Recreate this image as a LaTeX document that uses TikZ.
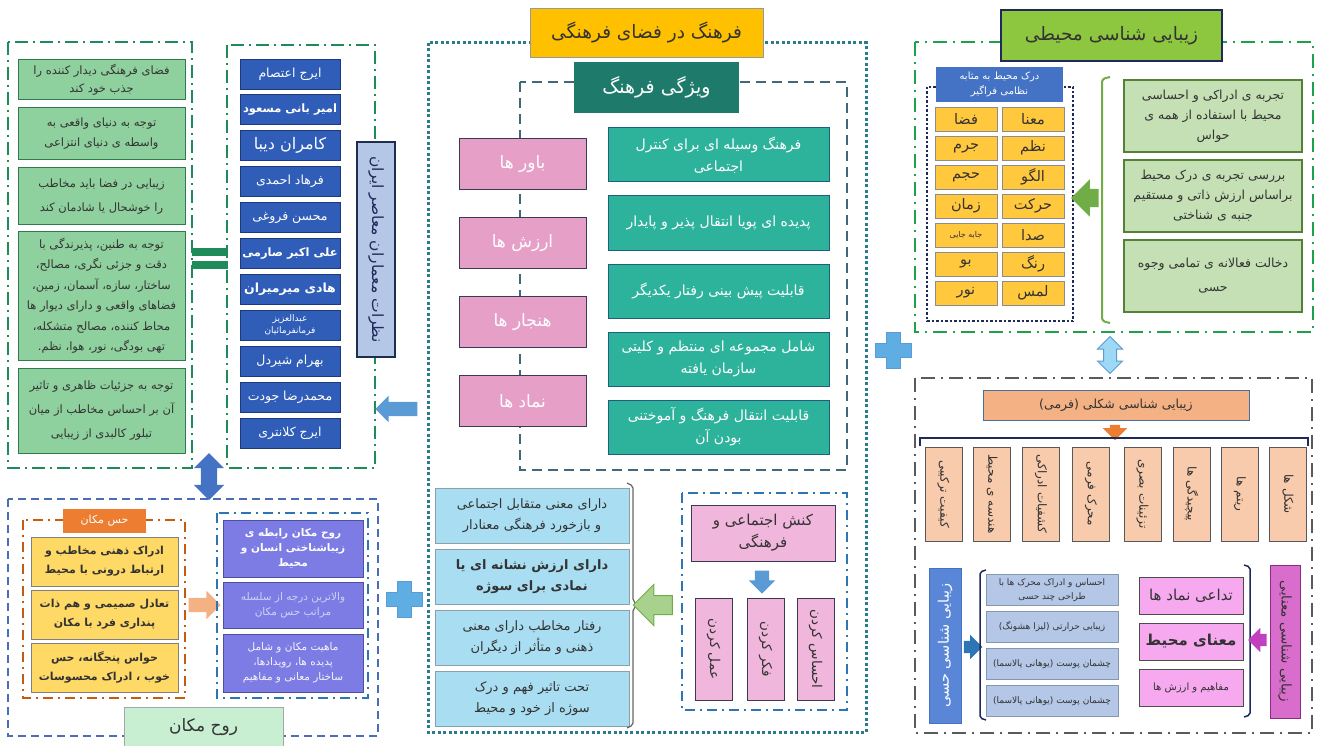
\documentclass[tikz,border=0pt]{standalone}
\usepackage{fontspec}
\setmainfont[Script=Arabic]{DejaVu Sans}
\TeXXeTstate=1
\usetikzlibrary{positioning, shapes.arrows}

\newcommand{\fa}[1]{\beginR#1\endR}

\definecolor{grnline}{HTML}{1E8C5A}
\definecolor{grnfill}{HTML}{8FD19E}
\definecolor{gbdr}{HTML}{2E7B4E}
\definecolor{namebl}{HTML}{2F5DB8}
\definecolor{namebd}{HTML}{1F3A7A}
\definecolor{nazfill}{HTML}{B4C7E7}
\definecolor{nazbd}{HTML}{1F2D4F}
\definecolor{tealdot}{HTML}{2A7B8C}
\definecolor{gold}{HTML}{FFC000}
\definecolor{dashfr}{HTML}{3F6878}
\definecolor{darkteal}{HTML}{1E7B6C}
\definecolor{pinkc}{HTML}{E6A0C8}
\definecolor{pinkbd}{HTML}{3A3A55}
\definecolor{tealc}{HTML}{2DB39B}
\definecolor{tealbd}{HTML}{1F5F80}
\definecolor{skyc}{HTML}{A9DEF2}
\definecolor{skybd}{HTML}{8AA0AA}
\definecolor{rosec}{HTML}{F0B6DC}
\definecolor{fgreen}{HTML}{1FA04A}
\definecolor{lime}{HTML}{8DC63F}
\definecolor{navy}{HTML}{1F2A5A}
\definecolor{ybl}{HTML}{4472C4}
\definecolor{cellyel}{HTML}{FFC83D}
\definecolor{lgfill}{HTML}{C5E0B4}
\definecolor{lgbd}{HTML}{548235}
\definecolor{lgarr}{HTML}{70AD47}
\definecolor{lgarrfill}{HTML}{A9D18E}
\definecolor{grayfr}{HTML}{5A5A5A}
\definecolor{salmon}{HTML}{F4B183}
\definecolor{salbd}{HTML}{41719C}
\definecolor{orng}{HTML}{ED7D31}
\definecolor{peach}{HTML}{F8CBAD}
\definecolor{bluev}{HTML}{5A86D8}
\definecolor{steel}{HTML}{2E75B6}
\definecolor{lbbd}{HTML}{8497B0}
\definecolor{magfill}{HTML}{F7A9F0}
\definecolor{magv}{HTML}{D96DCB}
\definecolor{magarr}{HTML}{C23FC0}
\definecolor{blfr}{HTML}{4A6DB8}
\definecolor{mint}{HTML}{C9EFD3}
\definecolor{rust}{HTML}{C55A11}
\definecolor{yfill}{HTML}{FFD966}
\definecolor{purp}{HTML}{7C7CE4}
\definecolor{purpbd}{HTML}{4F4FA0}
\definecolor{plusc}{HTML}{5FAEE3}
\definecolor{arrbl}{HTML}{5B9BD5}
\definecolor{ltcyan}{HTML}{9DD9F5}

\begin{document}
\begin{tikzpicture}[x=1pt, y=-1pt,
  every node/.style={align=center, inner sep=1pt, outer sep=0pt, text=black!80, font=\fontsize{10}{13}\selectfont},
  gframe/.style={draw=grnline, line width=2pt, dash pattern=on 13pt off 5pt on 2pt off 5pt},
  rgframe/.style={draw=fgreen, line width=2.2pt, dash pattern=on 14pt off 6pt on 2pt off 6pt},
  kframe/.style={draw=grayfr, line width=2.2pt, dash pattern=on 14pt off 6pt on 2pt off 6pt},
  bframe/.style={draw=steel, line width=2.5pt, dash pattern=on 10pt off 5pt on 2pt off 5pt},
  oframe/.style={draw=rust, line width=2.5pt, dash pattern=on 10pt off 5pt on 2pt off 5pt},
  gbox/.style={draw=gbdr, fill=grnfill, line width=1pt, minimum width=167pt, font=\fontsize{11.5}{18}\selectfont},
  nbox/.style={draw=namebd, fill=namebl, line width=0.8pt, minimum width=100pt, minimum height=30pt, text=white, font=\fontsize{12.5}{14}\selectfont},
  pbox/.style={draw=pinkbd, fill=pinkc, line width=1pt, minimum width=127pt, minimum height=51pt, text=white, font=\fontsize{17}{20}\selectfont},
  tbox/.style={draw=tealbd, fill=tealc, line width=1pt, minimum width=221pt, minimum height=54pt, text=white, font=\fontsize{14}{22}\selectfont},
  sbox/.style={draw=skybd, fill=skyc, line width=0.8pt, minimum width=194pt, minimum height=55pt, font=\fontsize{13}{21}\selectfont},
  kbox/.style={draw=pinkbd, fill=rosec, line width=1pt, minimum width=102pt, minimum height=37pt, rotate=-90, font=\fontsize{13.5}{15}\selectfont},
  ycell/.style={draw=black!45, fill=cellyel, minimum width=62pt, minimum height=24pt, font=\fontsize{14.5}{16}\selectfont},
  lgbox/.style={draw=lgbd, fill=lgfill, line width=1.5pt, minimum width=178pt, minimum height=72pt, font=\fontsize{12.5}{20}\selectfont},
  vbox/.style={draw=black!65, fill=peach, minimum width=94pt, minimum height=37pt, rotate=-90, font=\fontsize{12}{14}\selectfont},
  lbbox/.style={draw=lbbd, fill=nazfill, minimum width=132pt, minimum height=31pt, font=\fontsize{9}{14}\selectfont},
  mbox/.style={draw=black!70, fill=magfill, minimum width=104pt, minimum height=37pt},
  ybox/.style={draw=black!50, fill=yfill, minimum width=147pt, minimum height=49pt, font=\bfseries\fontsize{11}{19}\selectfont},
  ubox/.style={draw=purpbd, fill=purp, minimum width=140pt, font=\fontsize{10.5}{15}\selectfont},
  blockarrow/.style={single arrow, inner sep=#1, single arrow head extend=6pt},
  twoarrow/.style={double arrow, inner sep=#1, double arrow head extend=6pt},
  plussign/.pic={\filldraw[fill=plusc, draw=arrbl, line width=0.8pt] (-7,-18) -- (7,-18) -- (7,-7) -- (18,-7) -- (18,7) -- (7,7) -- (7,18) -- (-7,18) -- (-7,7) -- (-18,7) -- (-18,-7) -- (-7,-7) -- cycle;}]

\useasboundingbox (0,0) rectangle (1317,746);

% Left panel
\draw[gframe] (8,42) rectangle (192,468);
\draw[gframe] (227,45) rectangle (375,468);
\fill[grnline] (192,248) rectangle (228,256);
\fill[grnline] (192,261) rectangle (228,269);

\node[gbox, minimum height=40pt] (g1) at (101.5,80) {\fa{فضای فرهنگی دیدار کننده را}\\\fa{جذب خود کند}};
\node[gbox, minimum height=52pt, below=8pt of g1, font=\fontsize{11.5}{20}\selectfont] (g2) {\fa{توجه به دنیای واقعی به}\\\fa{واسطه ی دنیای انتزاعی}};
\node[gbox, minimum height=57pt, below=8pt of g2, font=\fontsize{11.5}{24}\selectfont] (g3) {\fa{زیبایی در فضا باید مخاطب}\\\fa{را خوشحال یا شادمان کند}};
\node[gbox, minimum height=128pt, below=7pt of g3, font=\fontsize{11.5}{20.5}\selectfont] (g4) {\fa{توجه به طنین، پذیرندگی با}\\\fa{دقت و جزئی نگری، مصالح،}\\\fa{ساختار، سازه، آسمان، زمین،}\\\fa{فضاهای واقعی و دارای دیوار ها}\\\fa{محاط کننده، مصالح متشکله،}\\\fa{تهی بودگی، نور، هوا، نظم.}};
\node[gbox, minimum height=85pt, below=8pt of g4, font=\fontsize{11.5}{24}\selectfont] (g5) {\fa{توجه به جزئیات ظاهری و تاثیر}\\\fa{آن بر احساس مخاطب از میان}\\\fa{تبلور کالبدی از زیبایی}};

\node[nbox] (n1) at (290,74) {\fa{ایرج اعتصام}};
\node[nbox, below=5.9pt of n1, font=\bfseries\fontsize{11.5}{13}\selectfont] (n2) {\fa{امیر بانی مسعود}};
\node[nbox, below=5.9pt of n2, font=\fontsize{16}{18}\selectfont] (n3) {\fa{کامران دیبا}};
\node[nbox, below=5.9pt of n3] (n4) {\fa{فرهاد احمدی}};
\node[nbox, below=5.9pt of n4] (n5) {\fa{محسن فروغی}};
\node[nbox, below=5.9pt of n5, font=\bfseries\fontsize{11.5}{13}\selectfont] (n6) {\fa{علی اکبر صارمی}};
\node[nbox, below=5.9pt of n6, font=\bfseries\fontsize{12.5}{14}\selectfont] (n7) {\fa{هادی میرمیران}};
\node[nbox, below=5.9pt of n7, font=\fontsize{9}{11.5}\selectfont] (n8) {\fa{عبدالعزیز}\\\fa{فرمانفرمائیان}};
\node[nbox, below=5.9pt of n8] (n9) {\fa{بهرام شیردل}};
\node[nbox, below=5.9pt of n9] (n10) {\fa{محمدرضا جودت}};
\node[nbox, below=5.9pt of n10] (n11) {\fa{ایرج کلانتری}};

\node[draw=nazbd, fill=nazfill, line width=1.2pt, minimum width=215pt, minimum height=38pt, rotate=-90, text=navy, font=\fontsize{15.5}{17}\selectfont] (nazar) at (376,249.5) {\fa{نظرات معماران معاصر ایران}};

\node[blockarrow=7pt, single arrow head extend=6pt, fill=arrbl, minimum height=42pt, shape border rotate=180] (arr1) at (400,409) {};

% Center panel
\draw[tealdot, line width=3pt, dash pattern=on 3pt off 2.5pt] (428,43) rectangle (866,732);
\node[draw=black!40, fill=gold, minimum width=233pt, minimum height=49pt, font=\fontsize{18.5}{21}\selectfont] (fz) at (646.5,32.5) {\fa{فرهنگ در فضای فرهنگی}};
\draw[dashfr, line width=2pt, dash pattern=on 10pt off 6pt] (520,82) rectangle (847,470);
\node[fill=darkteal, minimum width=165pt, minimum height=51pt, text=white, font=\fontsize{19}{22}\selectfont] (vf) at (656.5,87.5) {\fa{ویژگی فرهنگ}};

\node[pbox] (pk1) at (522.5,164) {\fa{باور ها}};
\node[pbox, below=28pt of pk1] (pk2) {\fa{ارزش ها}};
\node[pbox, below=28pt of pk2] (pk3) {\fa{هنجار ها}};
\node[pbox, below=28pt of pk3] (pk4) {\fa{نماد ها}};

\node[tbox] (t1) at (718.5,155) {\fa{فرهنگ وسیله ای برای کنترل}\\\fa{اجتماعی}};
\node[tbox, below=14pt of t1] (t2) {\fa{پدیده ای پویا انتقال پذیر و پایدار}};
\node[tbox, below=14pt of t2] (t3) {\fa{قابلیت پیش بینی رفتار یکدیگر}};
\node[tbox, below=14pt of t3] (t4) {\fa{شامل مجموعه ای منتظم و کلیتی}\\\fa{سازمان یافته}};
\node[tbox, below=14pt of t4] (t5) {\fa{قابلیت انتقال فرهنگ و آموختنی}\\\fa{بودن آن}};

\node[sbox] (s1) at (532,515.5) {\fa{دارای معنی متقابل اجتماعی}\\\fa{و بازخورد فرهنگی معنادار}};
\node[sbox, below=6pt of s1, font=\bfseries\fontsize{13}{21}\selectfont] (s2) {\fa{دارای ارزش نشانه ای یا}\\\fa{نمادی برای سوژه}};
\node[sbox, below=6pt of s2] (s3) {\fa{رفتار مخاطب دارای معنی}\\\fa{ذهنی و متأثر از دیگران}};
\node[sbox, below=6pt of s3] (s4) {\fa{تحت تاثیر فهم و درک}\\\fa{سوژه از خود و محیط}};
\draw[black!60, line width=1.2pt, rounded corners=2pt] (627,483) -- (633,486) -- (633,601) -- (638,605) -- (633,609) -- (633,725) -- (627,728);
\node[blockarrow=9pt, single arrow head extend=11pt, fill=lgarrfill, draw=lgarr, line width=1pt, minimum height=39pt, shape border rotate=180] (arr2) at (657.5,605) {};

\draw[bframe] (682,493) rectangle (847,710);
\node[draw=pinkbd, fill=rosec, line width=1pt, minimum width=144pt, minimum height=56pt, font=\fontsize{15}{22}\selectfont] (kon) at (763,533) {\fa{کنش اجتماعی و}\\\fa{فرهنگی}};
\node[blockarrow=7pt, single arrow head extend=6pt, fill=arrbl, minimum height=23pt, shape border rotate=270] (arr3) at (762,578.5) {};
\node[kbox] (k1) at (713.5,649) {\fa{عمل کردن}};
\node[kbox] (k2) at (765.5,649) {\fa{فکر کردن}};
\node[kbox] (k3) at (815.5,649) {\fa{احساس کردن}};

% Right top panel
\draw[rgframe] (915,42) rectangle (1313,332);
\node[draw=navy, fill=lime, line width=1.5pt, minimum width=221pt, minimum height=51pt, font=\fontsize{18.5}{21}\selectfont] (zm) at (1111.5,35.5) {\fa{زیبایی شناسی محیطی}};
\draw[navy, line width=2.5pt, dash pattern=on 2.5pt off 2pt] (927,87) rectangle (1073,321);
\node[fill=ybl, text=white, minimum width=127pt, minimum height=35pt, font=\fontsize{10}{15}\selectfont] (dm) at (999.5,84.5) {\fa{درک محیط به مثابه}\\\fa{نظامی فراگیر}};

\node[ycell] (c1) at (1033,119) {\fa{معنا}};
\node[ycell, below=5pt of c1] (c2) {\fa{نظم}};
\node[ycell, below=5pt of c2] (c3) {\fa{الگو}};
\node[ycell, below=5pt of c3] (c4) {\fa{حرکت}};
\node[ycell, below=5pt of c4] (c5) {\fa{صدا}};
\node[ycell, below=5pt of c5] (c6) {\fa{رنگ}};
\node[ycell, below=5pt of c6] (c7) {\fa{لمس}};
\node[ycell] (d1) at (966,119) {\fa{فضا}};
\node[ycell, below=5pt of d1] (d2) {\fa{جرم}};
\node[ycell, below=5pt of d2] (d3) {\fa{حجم}};
\node[ycell, below=5pt of d3] (d4) {\fa{زمان}};
\node[ycell, below=5pt of d4, font=\fontsize{8}{9}\selectfont] (d5) {\fa{جابه جایی}};
\node[ycell, below=5pt of d5] (d6) {\fa{بو}};
\node[ycell, below=5pt of d6] (d7) {\fa{نور}};

\node[blockarrow=9pt, single arrow head extend=9.5pt, fill=lgarr, minimum height=25pt, shape border rotate=180] (arr4) at (1089.5,198) {};
\draw[lgarr, line width=2pt, rounded corners=3pt] (1110,77) -- (1102,79) -- (1102,321) -- (1110,323);
\node[lgbox] (e1) at (1213,116) {\fa{تجربه ی ادراکی و احساسی}\\\fa{محیط با استفاده از همه ی}\\\fa{حواس}};
\node[lgbox, below=8pt of e1] (e2) {\fa{بررسی تجربه ی درک محیط}\\\fa{براساس ارزش ذاتی و مستقیم}\\\fa{جنبه ی شناختی}};
\node[lgbox, below=8pt of e2, font=\fontsize{12.5}{24}\selectfont] (e3) {\fa{دخالت فعالانه ی تمامی وجوه}\\\fa{حسی}};

\pic at (893,350) {plussign};
\node[twoarrow=6pt, double arrow head extend=6pt, fill=ltcyan, draw=arrbl, line width=1pt, minimum height=37pt, shape border rotate=90] (arr5) at (1110,355) {};

% Right bottom panel
\draw[kframe] (915,378) rectangle (1312,733);
\node[draw=salbd, fill=salmon, line width=1pt, minimum width=266pt, minimum height=30pt, font=\fontsize{12.5}{14}\selectfont] (shk) at (1116,405) {\fa{زیبایی شناسی شکلی (فرمی)}};
\node[blockarrow=5pt, single arrow head extend=7pt, fill=orng, minimum height=15pt, shape border rotate=270] (arr6) at (1115,430) {};
\draw[navy, line width=1.5pt] (920,446) -- (920,438) -- (1308,438) -- (1308,446);
\node[vbox] (v1) at (943.5,494) {\fa{کیفیت ترکیبی}};
\node[vbox] (v2) at (992,494) {\fa{هندسه ی محیط}};
\node[vbox] (v3) at (1041,494) {\fa{کشفیات ادراکی}};
\node[vbox] (v4) at (1091,494) {\fa{محرک فرمی}};
\node[vbox] (v5) at (1142.5,494) {\fa{تزئینات بصری}};
\node[vbox] (v6) at (1191.5,494) {\fa{پیچیدگی ها}};
\node[vbox] (v7) at (1240,494) {\fa{ریتم ها}};
\node[vbox] (v8) at (1288,494) {\fa{شکل ها}};

\node[fill=bluev, draw=ybl, minimum width=155pt, minimum height=32pt, rotate=90, text=white, font=\fontsize{14.5}{16}\selectfont] (hs) at (945,645.5) {\fa{زیبایی شناسی حسی}};
\node[blockarrow=6pt, single arrow head extend=6pt, fill=steel, minimum height=17pt] (arr7) at (970,647) {};
\draw[navy, line width=1.5pt, rounded corners=2pt] (986,570) -- (980,572) -- (980,718) -- (986,720);
\node[lbbox] (l1) at (1052,590) {\fa{احساس و ادراک محرک ها با}\\\fa{طراحی چند حسی}};
\node[lbbox, below=6pt of l1] (l2) {\fa{زیبایی حرارتی (لیزا هشونگ)}};
\node[lbbox, below=6pt of l2] (l3) {\fa{چشمان پوست (یوهانی پالاسما)}};
\node[lbbox, below=6pt of l3] (l4) {\fa{چشمان پوست (یوهانی پالاسما)}};

\node[mbox, font=\fontsize{15}{17}\selectfont] (m1) at (1191,595.5) {\fa{تداعی نماد ها}};
\node[mbox, below=9pt of m1, font=\bfseries\fontsize{15}{17}\selectfont] (m2) {\fa{معنای محیط}};
\node[mbox, below=9pt of m2, font=\fontsize{10}{12}\selectfont] (m3) {\fa{مفاهیم و ارزش ها}};
\draw[navy, line width=1.5pt, rounded corners=2pt] (1244,565) -- (1250,567) -- (1250,715) -- (1244,717);
\node[blockarrow=6pt, single arrow head extend=6pt, fill=magarr, minimum height=17pt, shape border rotate=180] (arr8) at (1260.5,640) {};
\node[fill=magv, draw=magarr!70!black, minimum width=153pt, minimum height=30pt, rotate=-90, font=\fontsize{13.5}{15}\selectfont] (mn) at (1285,641.5) {\fa{زیبایی شناسی معنایی}};

% Bottom left panel
\node[twoarrow=8pt, double arrow head extend=7pt, fill=ybl, minimum height=47pt, shape border rotate=90] (arr9) at (209,476.5) {};
\draw[blfr, line width=2.5pt, dash pattern=on 8pt off 5pt] (8,499) rectangle (378,736);
\node[draw=black!35, fill=mint, minimum width=159pt, minimum height=40pt, font=\fontsize{17}{20}\selectfont] (rm) at (203.5,727) {\fa{روح مکان}};
\draw[oframe] (23,520) rectangle (185,698);
\node[fill=orng, text=white, minimum width=83pt, minimum height=24pt, font=\fontsize{11}{13}\selectfont] (hm) at (104.5,521) {\fa{حس مکان}};
\node[ybox] (y1) at (104.5,561.5) {\fa{ادراک ذهنی مخاطب و}\\\fa{ارتباط درونی با محیط}};
\node[ybox, below=4pt of y1] (y2) {\fa{تعادل صمیمی و هم ذات}\\\fa{پنداری فرد با مکان}};
\node[ybox, below=4pt of y2] (y3) {\fa{حواس پنجگانه، حس}\\\fa{خوب ، ادراک محسوسات}};
\node[blockarrow=7pt, single arrow head extend=7pt, fill=salmon, minimum height=32pt] (arr10) at (201,605) {};

\draw[bframe] (217,513) rectangle (368,698);
\node[ubox, minimum height=57pt, text=white, font=\bfseries\fontsize{10.5}{15}\selectfont] (u1) at (293,548.5) {\fa{روح مکان رابطه ی}\\\fa{زیباشناختی انسان و}\\\fa{محیط}};
\node[ubox, minimum height=46pt, text=purp!35!white] (u2) at (293,605) {\fa{والاترین درجه از سلسله}\\\fa{مراتب حس مکان}};
\node[ubox, minimum height=58pt, text=white!92!purp] (u3) at (293,663) {\fa{ماهیت مکان و شامل}\\\fa{پدیده ها، رویدادها،}\\\fa{ساختار معانی و مفاهیم}};
\pic at (404,599) {plussign};

\end{tikzpicture}
\end{document}
